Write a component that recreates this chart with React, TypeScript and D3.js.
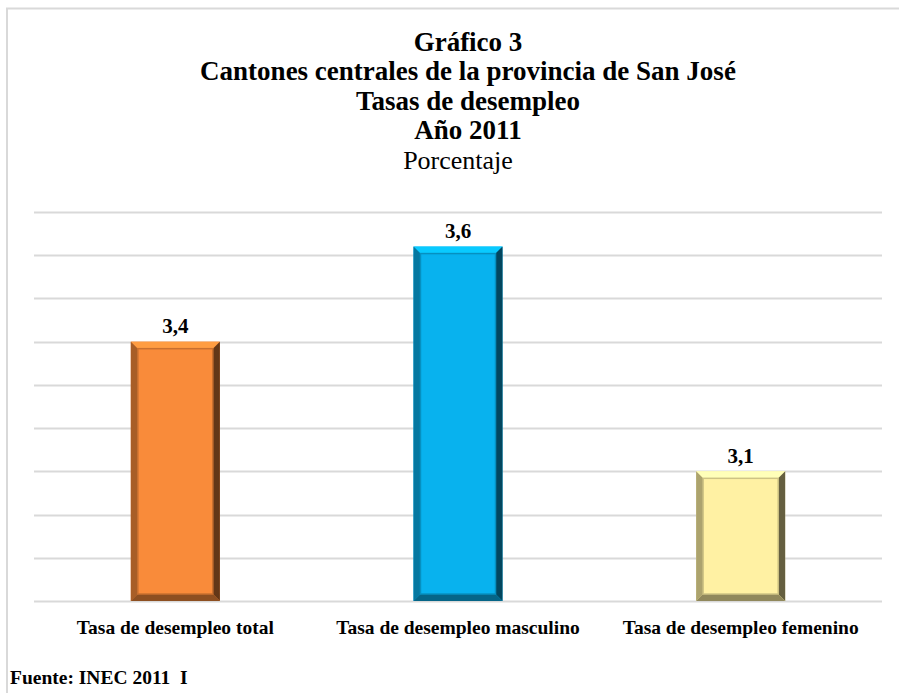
import { useRef, useEffect } from 'react'
import * as d3 from 'd3'

const titleLines = [
  'Gráfico 3',
  'Cantones centrales de la provincia de San José',
  'Tasas de desempleo',
  'Año 2011',
]
const subtitle = 'Porcentaje'
const categories = [
  'Tasa de desempleo total',
  'Tasa de desempleo masculino',
  'Tasa de desempleo femenino',
]
const values = [3.4, 3.62, 3.1]
const valueLabels = ['3,4', '3,6', '3,1']
const gridTicks = [2.8, 2.9, 3.0, 3.1, 3.2, 3.3, 3.4, 3.5, 3.6, 3.7]
const faceColors = ['#f98b3a', '#08b2ee', '#fff1a3']
const source = 'Fuente: INEC 2011  I'

const App = () => {
  const svgRef = useRef<SVGSVGElement>(null)

  useEffect(() => {
    const svg = d3.select(svgRef.current)
    svg.selectAll('*').remove()

    const margin = { top: 212, right: 17, bottom: 92, left: 34 }
    const width = 899
    const height = 693
    const innerWidth = width - margin.left - margin.right
    const innerHeight = height - margin.top - margin.bottom

    // frame
    svg
      .append('path')
      .attr('d', `M7,${height + 5} V8.5 H${width + 5}`)
      .attr('fill', 'none')
      .attr('stroke', '#d9d9d9')
      .attr('stroke-width', 2)

    const titleY = [42, 71, 101, 130]
    titleLines.forEach((t, i) => {
      svg
        .append('text')
        .text(t)
        .attr('x', 468)
        .attr('y', titleY[i])
        .attr('dy', '0.35em')
        .attr('text-anchor', 'middle')
        .attr('font-weight', 'bold')
        .attr('font-size', 27)
        .attr('fill', '#000')
    })
    svg
      .append('text')
      .text(subtitle)
      .attr('x', 458)
      .attr('y', 160)
      .attr('dy', '0.35em')
      .attr('text-anchor', 'middle')
      .attr('font-size', 26)
      .attr('fill', '#000')

    const g = svg
      .append('g')
      .attr('transform', `translate(${margin.left},${margin.top})`)

    const xScale = d3
      .scaleBand<string>()
      .domain(categories)
      .range([0, innerWidth])
      .paddingInner(0.685)
      .paddingOuter(0.3425)

    const yScale = d3
      .scaleLinear()
      .domain([2.8, 3.7])
      .range([innerHeight, 0])

    g.selectAll('.grid')
      .data(gridTicks)
      .join('line')
      .attr('x1', 0)
      .attr('x2', innerWidth)
      .attr('y1', (d) => Math.round(yScale(d)) + 0.5)
      .attr('y2', (d) => Math.round(yScale(d)) + 0.5)
      .attr('stroke', '#d9d9d9')
      .attr('stroke-width', 2)

    const bev = 7
    values.forEach((v, i) => {
      const x0 = xScale(categories[i])!
      const w = xScale.bandwidth()
      const y0 = yScale(v)
      const y1 = yScale(2.8)
      const x1 = x0 + w
      const base = d3.color(faceColors[i])!
      const bar = g.append('g')
      bar
        .append('rect')
        .attr('x', x0)
        .attr('y', y0)
        .attr('width', w)
        .attr('height', y1 - y0)
        .attr('fill', faceColors[i])
      const poly = (pts: number[][], c: string) =>
        bar
          .append('path')
          .attr('d', d3.line()(pts as [number, number][]) + 'Z')
          .attr('fill', c)
      // top
      poly(
        [[x0, y0], [x1, y0], [x1 - bev, y0 + bev], [x0 + bev, y0 + bev]],
        base.brighter(0.35).toString()
      )
      // left
      poly(
        [[x0, y0], [x0 + bev, y0 + bev], [x0 + bev, y1 - bev], [x0, y1]],
        base.darker(1.1).toString()
      )
      // right
      poly(
        [[x1, y0], [x1, y1], [x1 - bev, y1 - bev], [x1 - bev, y0 + bev]],
        base.darker(2.6).toString()
      )
      // bottom
      poly(
        [[x0, y1], [x1, y1], [x1 - bev, y1 - bev], [x0 + bev, y1 - bev]],
        base.darker(1.6).toString()
      )
      // inner rim
      bar
        .append('rect')
        .attr('x', x0 + bev)
        .attr('y', y0 + bev)
        .attr('width', w - 2 * bev)
        .attr('height', y1 - y0 - 2 * bev)
        .attr('fill', 'none')
        .attr('stroke', base.darker(0.6).toString())
        .attr('stroke-width', 1.5)
      bar
        .append('rect')
        .attr('x', x0 + bev + 1.5)
        .attr('y', y0 + bev + 1.5)
        .attr('width', w - 2 * bev - 3)
        .attr('height', y1 - y0 - 2 * bev - 3)
        .attr('fill', faceColors[i])

      g.append('text')
        .text(valueLabels[i])
        .attr('x', x0 + w / 2)
        .attr('y', y0 - 16)
        .attr('dy', '0.35em')
        .attr('text-anchor', 'middle')
        .attr('font-weight', 'bold')
        .attr('font-size', 21)
        .attr('fill', '#000')
    })

    const xAxis = d3.axisBottom(xScale).tickSize(0).tickPadding(0)
    const xg = g
      .append('g')
      .attr('transform', `translate(0,${innerHeight})`)
      .call(xAxis)
      .attr('font-family', null)
      .attr('font-size', null)
    xg.select('.domain').remove()
    xg.selectAll('text')
      .attr('y', 26)
      .attr('dy', '0.35em')
      .attr('font-weight', 'bold')
      .attr('font-size', 19.5)
      .attr('fill', '#000')

    svg
      .append('text')
      .text(source)
      .attr('x', 10)
      .attr('y', 677)
      .attr('dy', '0.35em')
      .attr('font-weight', 'bold')
      .attr('font-size', 19.5)
      .style('white-space', 'pre')
      .attr('fill', '#000')
  }, [])

  return (
    <svg
      ref={svgRef}
      width={899}
      height={693}
      style={{
        display: 'block',
        position: 'absolute',
        left: 0,
        top: 0,
        fontFamily: "'Liberation Serif', 'Times New Roman', serif",
      }}
    ></svg>
  )
}

export default App
